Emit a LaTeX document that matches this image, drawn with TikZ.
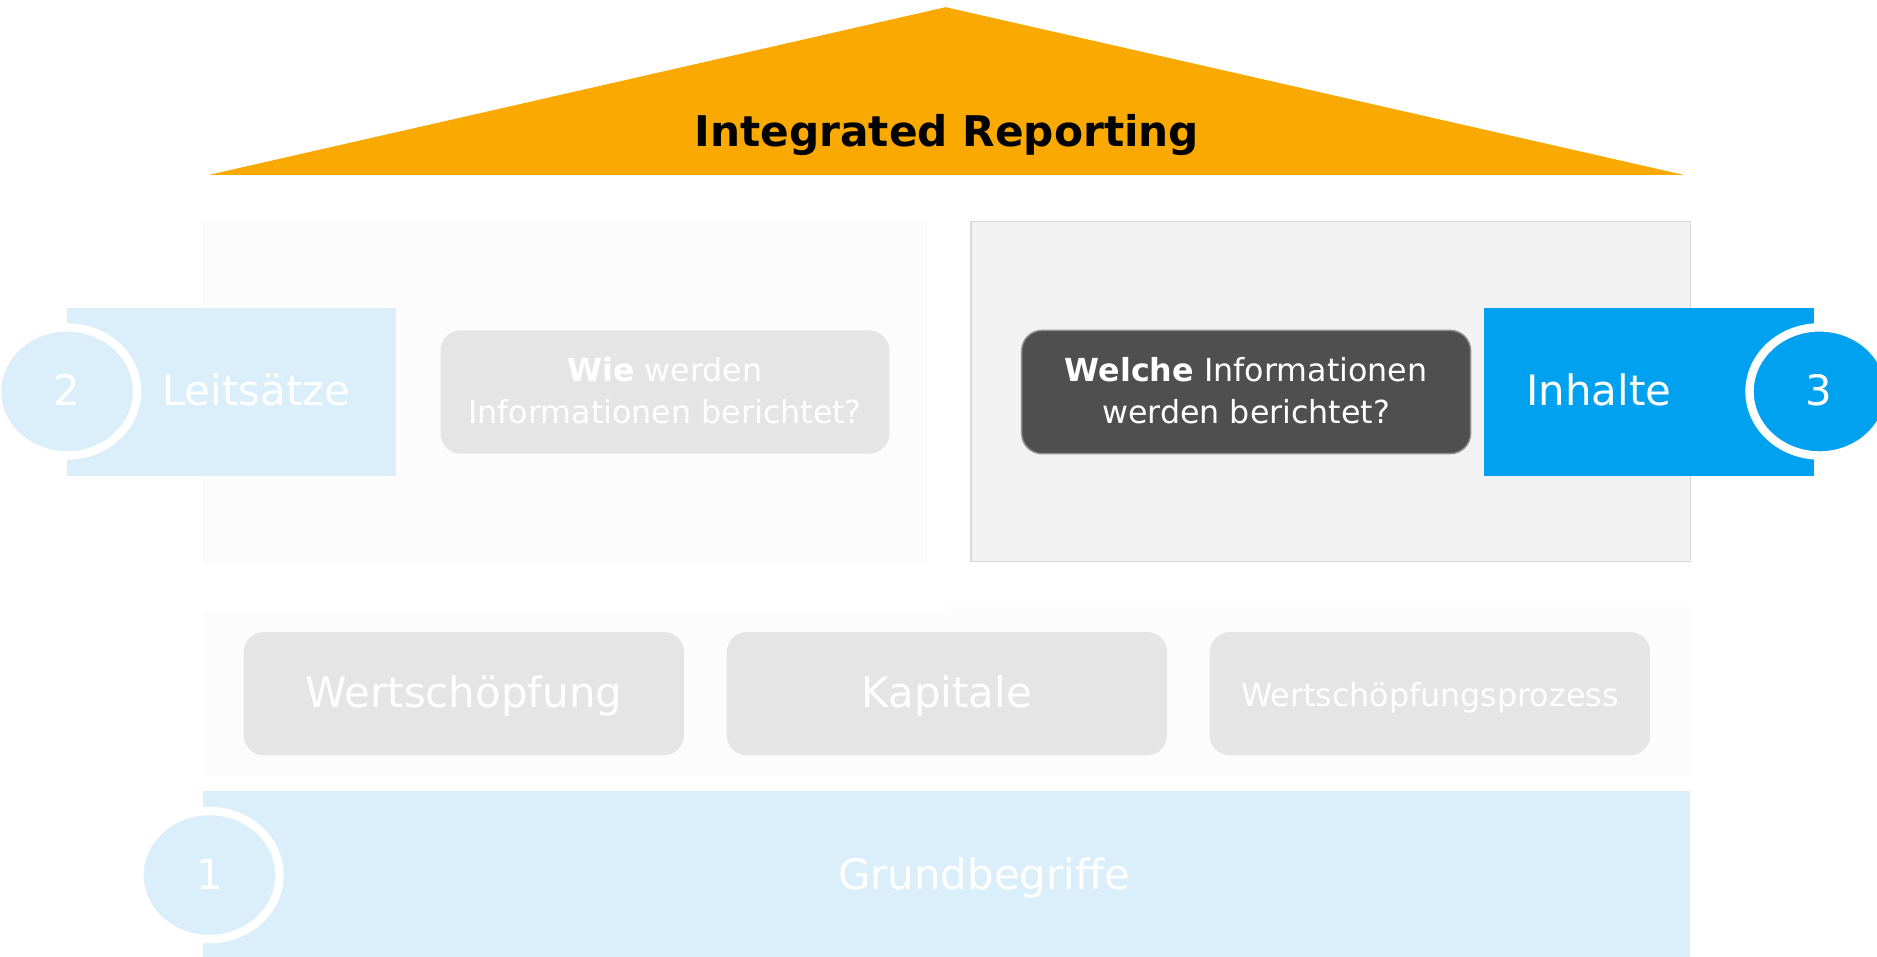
\documentclass[tikz,border=0pt]{standalone}
\usepackage{fontspec}
\setmainfont{DejaVu Sans}
\usetikzlibrary{shapes.geometric}
\definecolor{roofc}{HTML}{F9A900}
\definecolor{lblue}{HTML}{DAEFFA}
\definecolor{bblue}{HTML}{00A1EF}
\definecolor{dgray}{HTML}{4F4F4F}
\definecolor{bgray}{HTML}{E5E5E5}
\definecolor{pR}{HTML}{F2F2F2}
\definecolor{pRb}{HTML}{D9D9D9}
\definecolor{pL}{HTML}{FCFCFC}
\definecolor{pLb}{HTML}{F8F8F8}
\definecolor{bord}{HTML}{8F8F8F}
\tikzset{
  plain/.style={inner sep=0pt, outer sep=0pt, rectangle},
  rbox/.style={plain, rounded corners=17pt, minimum width=#1, minimum height=103pt},
  big/.style={font=\fontsize{35}{42}\selectfont, text=white, inner sep=0pt},
  small/.style={font=\fontsize{26.5}{35.4}\selectfont, text=white, align=center, inner sep=0pt},
  disc/.style={ellipse, draw=white, line width=7pt, minimum width=117pt, minimum height=107pt, inner sep=0pt, fill=#1}
}
\begin{document}
\begin{tikzpicture}[x=1pt,y=-1pt]
\useasboundingbox (0,0) rectangle (1568,799);
\clip (0,0) rectangle (1568,799);
% roof
\fill[roofc] (175,146) -- (790,6) -- (1406,146) -- cycle;
\node[font=\fontsize{35.3}{42}\selectfont\bfseries, text=black, inner sep=0pt, anchor=base] (title) at (791,122) {Integrated Reporting};
% upper panels
\node[plain, fill=pL, draw=pLb, minimum width=604pt, minimum height=284pt] (panelL) at (472,327) {};
\node[plain, fill=pR, draw=pRb, line width=1.2pt, minimum width=601pt, minimum height=284pt] (panelR) at (1111.5,327) {};
% Leitsaetze
\node[plain, fill=lblue, minimum width=275pt, minimum height=141pt] (leit) at (193.5,327.5) {};
\node[big, anchor=base] (leitT) at (214,339) {Leitsätze};
\node[disc=lblue] (c2) at (56,327) {};
\node[big, anchor=base] (c2T) at (56,339) {2};
% Wie box
\node[rbox=375pt, fill=bgray] (wie) at (555.5,327.5) {};
\node[small] (wieT) at (555.5,326.5) {\textbf{Wie} werden\\Informationen berichtet?};
% Welche box
\node[rbox=375pt, fill=dgray, draw=bord, line width=1.2pt] (welche) at (1041,327.5) {};
\node[small] (welcheT) at (1041,326.5) {\textbf{Welche} Informationen\\werden berichtet?};
% Inhalte
\node[plain, fill=bblue, minimum width=275pt, minimum height=141pt] (inh) at (1377.5,327.5) {};
\node[big, anchor=base] (inhT) at (1335.5,339) {Inhalte};
\node[disc=bblue] (c3) at (1520,327) {};
\node[big, anchor=base] (c3T) at (1519,339) {3};
% lower panel
\node[plain, fill=pL, minimum width=621.5pt, minimum height=136pt] (panelBL) at (480.25,580) {};
\node[plain, fill=pL, minimum width=621pt, minimum height=141pt] (panelBR) at (1101.5,577.5) {};
\node[rbox=368pt, fill=bgray] (wert) at (387.5,579.5) {};
\node[big, anchor=base] (wertT) at (387.5,591) {Wertschöpfung};
\node[rbox=368pt, fill=bgray] (kap) at (791,579.5) {};
\node[big, anchor=base] (kapT) at (791,591) {Kapitale};
\node[rbox=368pt, fill=bgray] (wsp) at (1194.5,579.5) {};
\node[small, anchor=base] (wspT) at (1194.5,590) {Wertschöpfungsprozess};
% Grundbegriffe
\node[plain, fill=lblue, minimum width=1242.5pt, minimum height=142pt] (grund) at (790.75,731.5) {};
\node[big, anchor=base] (grundT) at (822,743) {Grundbegriffe};
\node[disc=lblue] (c1) at (175,731) {};
\node[big, anchor=base] (c1T) at (175,743) {1};
\end{tikzpicture}
\end{document}
